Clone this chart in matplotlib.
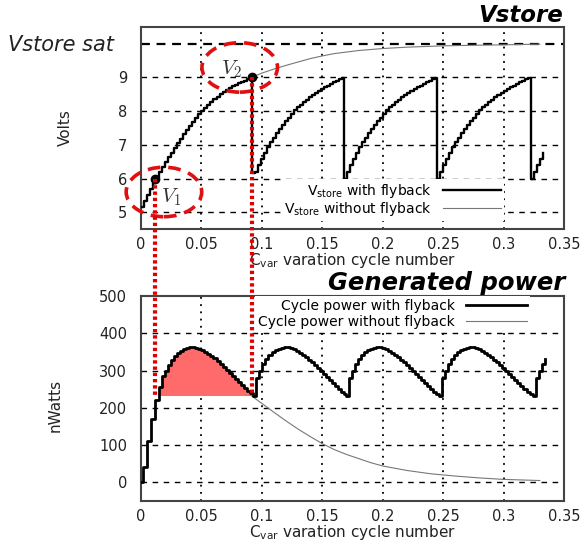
import numpy as np
import matplotlib.pyplot as plt
from matplotlib.patches import Ellipse
from matplotlib.lines import Line2D

plt.rcParams['font.family'] = 'DejaVu Sans'
plt.rcParams['mathtext.fontset'] = 'dejavusans'

##### data
step = 0.0025                      # sample spacing in Cvar cycles
cycle_starts = [0.0915, 0.168, 0.245, 0.3225]   # flyback instants

# Vstore with flyback, first charge (from x=0 every step up to V2)
vfly_first = [5.16, 5.34, 5.52, 5.69, 5.86, 6.02, 6.18, 6.34, 6.49, 6.63,
              6.77, 6.91, 7.05, 7.18, 7.31, 7.44, 7.56, 7.68, 7.80, 7.91,
              8.01, 8.10, 8.19, 8.27, 8.35, 8.43, 8.50, 8.57, 8.63, 8.69,
              8.74, 8.79, 8.83, 8.87, 8.91, 8.95, 8.98]
# Vstore with flyback, one recharge after a flyback
vfly_cycle = [6.00, 6.20, 6.39, 6.57, 6.75, 6.93, 7.08, 7.21, 7.34, 7.46,
              7.58, 7.70, 7.81, 7.92, 8.02, 8.11, 8.19, 8.27, 8.34, 8.41,
              8.48, 8.54, 8.60, 8.66, 8.71, 8.76, 8.81, 8.86, 8.91, 8.95, 8.99]
cycle2_start_v = 6.15

# Vstore without flyback
vnofly_x = [0.0915, 0.10, 0.11, 0.12, 0.13, 0.14, 0.15, 0.16, 0.18, 0.20,
            0.22, 0.25, 0.28, 0.30, 0.33]
vnofly_v = [9.0, 9.13, 9.25, 9.36, 9.46, 9.56, 9.64, 9.71, 9.80, 9.86,
            9.90, 9.94, 9.96, 9.97, 9.99]
vsat = 10.0

v1 = (0.012, 6.0)
v2 = (0.0915, 9.0)

# Cycle power with flyback, first charge
pfly_first_x = [0, 0.0015, 0.005, 0.008, 0.0115, 0.0145, 0.0175, 0.020, 0.0225,
                0.025, 0.0275, 0.030, 0.0325, 0.035, 0.0375, 0.040, 0.0425,
                0.045, 0.0475, 0.050, 0.0525, 0.055, 0.0575, 0.060, 0.0625,
                0.065, 0.0675, 0.070, 0.0725, 0.075, 0.0775, 0.080, 0.0825,
                0.085, 0.0875, 0.090]
pfly_first = [0, 40, 110, 170, 220, 255, 285, 300, 315, 328, 338, 346, 352,
              357, 360, 362, 362, 361, 358, 354, 350, 345, 339, 333, 326, 318,
              310, 302, 294, 286, 278, 270, 262, 254, 246, 239]
# Cycle power with flyback, one cycle after a flyback
pfly_cycle = [232, 280, 300, 318, 332, 342, 350, 355, 359, 361, 362, 362, 360,
              357, 353, 348, 342, 336, 329, 322, 314, 306, 298, 290, 282, 274,
              266, 258, 250, 243, 237]
power_lag = 0.0015

# Cycle power without flyback
pnofly_x = [0.0915, 0.10, 0.11, 0.12, 0.13, 0.14, 0.15, 0.16, 0.17, 0.18,
            0.19, 0.20, 0.22, 0.24, 0.26, 0.28, 0.30, 0.33]
pnofly = [232, 212, 188, 165, 143, 123, 104, 88, 75, 64, 53, 44, 32, 23, 17,
          12, 8, 5]
p_base = 232

xticks = [0, 0.05, 0.1, 0.15, 0.2, 0.25, 0.3, 0.35]
xticklabels = ["0", "0.05", "0.1", "0.15", "0.2", "0.25", "0.3", "0.35"]


##### build the stair series
vx = list(np.arange(len(vfly_first)) * step) + [v2[0]]
vy = vfly_first + [v2[1]]
px = list(pfly_first_x)
py = list(pfly_first)
for i, s in enumerate(cycle_starts):
    vals = list(vfly_cycle)
    pvals = list(pfly_cycle)
    if i == 0:
        vals[0] = cycle2_start_v
    if i == len(cycle_starts) - 1:      # last, partial recharge
        vals = vals[:5]
        pvals = pvals[:5]
    vx += list(s + step * np.arange(len(vals)))
    vy += vals
    px += list(s + power_lag + step * np.arange(len(pvals)))
    py += pvals
px = np.array(px)
py = np.array(py)


fig = plt.figure(figsize=(5.84, 5.45), dpi=100)
ax1 = fig.add_axes([0.2414, 0.5798, 0.7243, 0.3707])
ax2 = fig.add_axes([0.2414, 0.0807, 0.7243, 0.3761])

dash = (0, (4, 4))
dot = (0, (1, 3))

for ax in (ax1, ax2):
    ax.set_xlim(0, 0.35)
    ax.set_xticks(xticks)
    ax.set_xticklabels(xticklabels)
    ax.tick_params(length=0, labelsize=10.5, colors='#222222')
    ax.tick_params(axis='x', pad=6)
    ax.tick_params(axis='y', pad=10)
    for sp in ax.spines.values():
        sp.set_color('#444444')
        sp.set_linewidth(1.5)
    for t in xticks[1:-1]:
        ax.axvline(t, color='black', ls=dot, lw=1.3, zorder=1)
    ax.set_xlabel(r"C$_{\rm var}$ varation cycle number", fontsize=11,
                  color='#222222', labelpad=-1)

####### top: Vstore
ax1.set_ylim(4.5, 10.5)
ax1.set_yticks([5, 6, 7, 8, 9])
for t in [5, 6, 7, 8, 9]:
    ax1.axhline(t, color='black', ls=dash, lw=1, zorder=1)
ax1.axhline(vsat, color='black', ls=(0, (4, 3)), lw=1.6, zorder=1)

ax1.plot(vnofly_x, vnofly_v, color='#777777', lw=0.8, zorder=3,
         label=r"V$_{\rm store}$ without flyback")
ax1.plot(vx, vy, color='black', lw=1.7, drawstyle='steps-post', zorder=4,
         label=r"V$_{\rm store}$ with flyback")
h, l = ax1.get_legend_handles_labels()
leg = ax1.legend(h[::-1], l[::-1], loc='lower right',
                 bbox_to_anchor=(0.875, 0.005), markerfirst=False,
                 fontsize=10, handlelength=4.2, handletextpad=0.8,
                 labelspacing=0.05, borderpad=0.2, frameon=True,
                 framealpha=1, facecolor='white', edgecolor='none',
                 fancybox=False)
leg.set_zorder(5)

ax1.plot([v1[0], v2[0]], [v1[1], v2[1]], 'o', color='black', ms=6, zorder=6)
for (cx, cy), lab, (lx, ly) in [((0.019, 5.6), r"$V_1$", (0.025, 5.45)),
                                ((0.0817, 9.3), r"$V_2$", (0.075, 9.25))]:
    ax1.add_patch(Ellipse((cx, cy), 0.0625, 1.47, fill=False, edgecolor='#e01010',
                          lw=2.6, ls=(0, (3.5, 2.2)), clip_on=False, zorder=7))
    ax1.text(lx, ly, lab, fontsize=15, color='#333333', ha='center',
             va='center', math_fontfamily='cm', zorder=7)

####### bottom: generated power
ax2.set_ylim(-50, 500)
ax2.set_yticks([0, 100, 200, 300, 400, 500])
for t in [0, 100, 200, 300, 400]:
    ax2.axhline(t, color='black', ls=dash, lw=1, zorder=1)

mask = (px >= v1[0]) & (px <= 0.093)
ax2.fill_between(px, np.maximum(py, p_base), p_base, where=mask, step='post',
                 color='#ff6a6a', lw=0, zorder=2)
ax2.plot(px, py, color='black', lw=2, drawstyle='steps-post', zorder=4,
         label="Cycle power with flyback")
ax2.plot(pnofly_x, pnofly, color='#777777', lw=0.8, zorder=3,
         label="Cycle power without flyback")
leg2 = ax2.legend(loc='upper right', bbox_to_anchor=(0.935, 1.035),
                  markerfirst=False, fontsize=10, handlelength=4.4,
                  handletextpad=0.8, labelspacing=0.15, borderpad=0.2,
                  frameon=True, framealpha=1, facecolor='white',
                  edgecolor='none', fancybox=False)
leg2.set_zorder(5)

# red dotted links from V1, V2 down to the power plot (figure coords)
to_fig = fig.transFigure.inverted()
for lx_, vy_ in (v1, v2):
    top = to_fig.transform(ax1.transData.transform((lx_, vy_)))
    bot = to_fig.transform(ax2.transData.transform((lx_, p_base)))
    fig.add_artist(Line2D([top[0], bot[0]], [top[1], bot[1]],
                          transform=fig.transFigure, color='#e00000', lw=3,
                          ls=(0, (0.8, 0.7)), zorder=8))

####### labels
fig.text(8 / 584, 1 - 45 / 545, "Vstore sat", fontsize=15, style='italic',
         va='center', ha='left', color='#222222')
fig.text(563 / 584, 1 - 15 / 545, "Vstore", fontsize=16.5, style='italic',
         weight='bold', va='center', ha='right')
fig.text(565 / 584, 1 - 283 / 545, "Generated power", fontsize=17.5,
         style='italic', weight='bold', va='center', ha='right')
fig.text(65 / 584, 1 - 128 / 545, "Volts", fontsize=11, rotation=90,
         va='center', ha='center', color='#222222')
fig.text(55 / 584, 1 - 405 / 545, "nWatts", fontsize=11, rotation=90,
         va='center', ha='center', color='#222222')

plt.savefig("out.png", dpi=100)
